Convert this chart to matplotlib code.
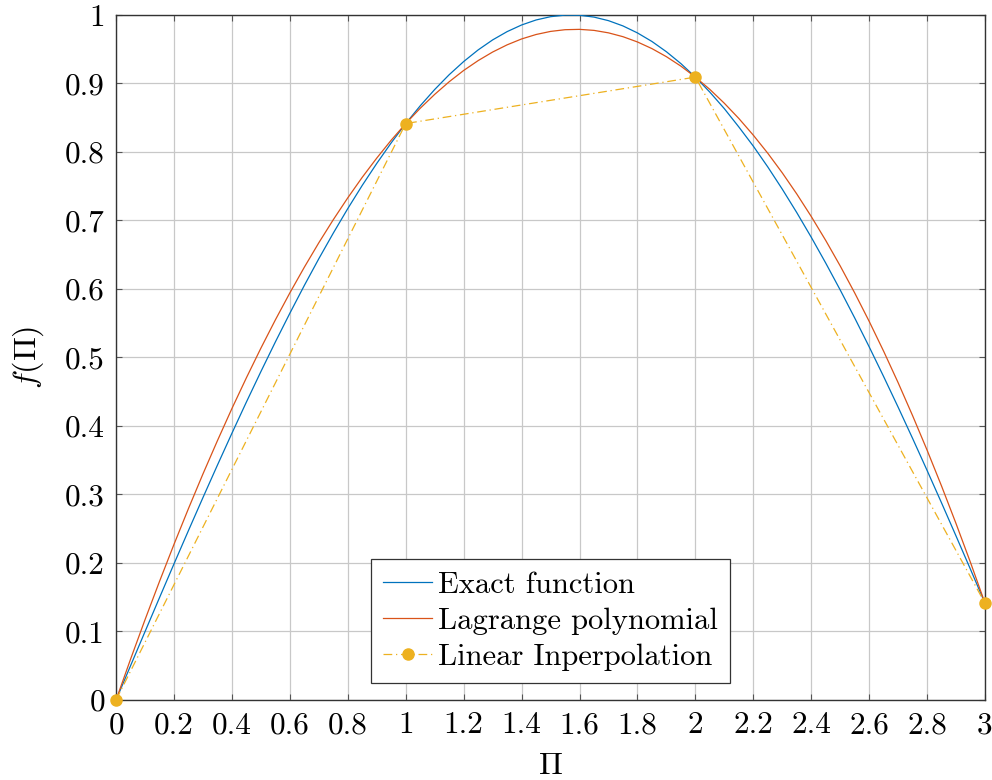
import matplotlib
matplotlib.use("Agg")
import matplotlib.pyplot as plt

# sample points along Pi (step 0.05)
x_curve = [round(0.05 * i, 2) for i in range(61)]

exact_vals = [0.0, 0.0500, 0.0998, 0.1494, 0.1987, 0.2474, 0.2955, 0.3429, 0.3894, 0.4350,
              0.4794, 0.5227, 0.5646, 0.6052, 0.6442, 0.6816, 0.7174, 0.7513, 0.7833, 0.8134,
              0.8415, 0.8674, 0.8912, 0.9128, 0.9320, 0.9490, 0.9636, 0.9757, 0.9854, 0.9927,
              0.9975, 0.9998, 0.9996, 0.9969, 0.9917, 0.9840, 0.9738, 0.9613, 0.9463, 0.9290,
              0.9093, 0.8873, 0.8632, 0.8365, 0.8085, 0.7781, 0.7457, 0.7115, 0.6755, 0.6378,
              0.5985, 0.5577, 0.5155, 0.4720, 0.4274, 0.3817, 0.3350, 0.2875, 0.2392, 0.1904,
              0.1411]

lagrange_vals = [0.0, 0.0595, 0.1172, 0.1731, 0.2272, 0.2795, 0.3300, 0.3786, 0.4255, 0.4704,
                 0.5136, 0.5549, 0.5943, 0.6318, 0.6675, 0.7012, 0.7331, 0.7631, 0.7911, 0.8173,
                 0.8415, 0.8638, 0.8841, 0.9025, 0.9190, 0.9334, 0.9459, 0.9564, 0.9650, 0.9715,
                 0.9760, 0.9785, 0.9790, 0.9775, 0.9739, 0.9683, 0.9606, 0.9509, 0.9391, 0.9253,
                 0.9093, 0.8913, 0.8711, 0.8489, 0.8245, 0.7981, 0.7695, 0.7387, 0.7058, 0.6708,
                 0.6336, 0.5942, 0.5527, 0.5090, 0.4631, 0.4149, 0.3646, 0.3121, 0.2573, 0.2004,
                 0.1411]

x_nodes = [0, 1, 2, 3]
y_nodes = [0.0, 0.8415, 0.9093, 0.1411]

x_ticks = [round(0.2 * i, 1) for i in range(16)]
x_tick_labels = ["0", "0.2", "0.4", "0.6", "0.8", "1", "1.2", "1.4", "1.6", "1.8",
                 "2", "2.2", "2.4", "2.6", "2.8", "3"]
y_ticks = [round(0.1 * i, 1) for i in range(11)]
y_tick_labels = ["0", "0.1", "0.2", "0.3", "0.4", "0.5", "0.6", "0.7", "0.8", "0.9", "1"]

plt.rcParams["font.family"] = "serif"
plt.rcParams["font.serif"] = ["cmr10"]
plt.rcParams["mathtext.fontset"] = "cm"
plt.rcParams["axes.formatter.use_mathtext"] = True

fig = plt.figure(figsize=(9.92, 7.8), dpi=100)
ax = fig.add_axes([0.117, 0.1026, 0.876, 0.8782])

blue = "#0072BD"
red = "#D95319"
yellow = "#EDB120"

ax.plot(x_curve, exact_vals, color=blue, lw=0.9, label="Exact function", zorder=3)
ax.plot(x_curve, lagrange_vals, color=red, lw=0.9, label="Lagrange polynomial", zorder=3)
ax.plot(x_nodes, y_nodes, color=yellow, lw=0.9, ls=(0, (7, 3, 1, 3)), marker="o",
        markersize=8, label="Linear Inperpolation", zorder=4, clip_on=False)

ax.set_xlim(0, 3)
ax.set_ylim(0, 1)
ax.set_xticks(x_ticks)
ax.set_xticklabels(x_tick_labels)
ax.set_yticks(y_ticks)
ax.set_yticklabels(y_tick_labels)
ax.tick_params(direction="in", length=4, width=0.8, color="#555555", labelsize=22.5,
               top=True, right=True)
ax.tick_params(axis="x", pad=8)
ax.tick_params(axis="y", pad=8)
ax.grid(True, color="#c8c8c8", lw=0.9)
ax.set_axisbelow(True)
for s in ax.spines.values():
    s.set_color("#333333")
    s.set_linewidth(1.0)

ax.set_xlabel(r"$\Pi$", fontsize=23, labelpad=10)
ax.set_ylabel(r"$f(\Pi)$", fontsize=23, labelpad=14)

leg = ax.legend(loc="lower center", bbox_to_anchor=(0.5, 0.025), fontsize=22, fancybox=False,
                framealpha=1, edgecolor="#333333", borderpad=0.4, labelspacing=0.28,
                handlelength=1.6, handletextpad=0.2, borderaxespad=0)
leg.get_frame().set_linewidth(0.9)

fig.savefig("out.png", dpi=100)
